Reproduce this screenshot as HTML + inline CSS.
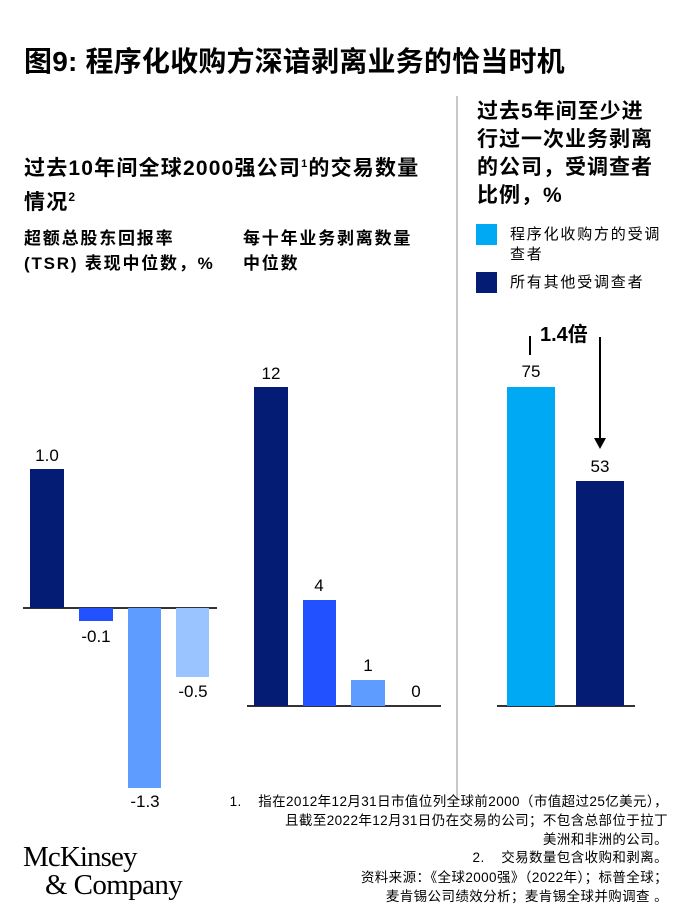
<!DOCTYPE html>
<html><head><meta charset="utf-8"><style>
*{margin:0;padding:0;box-sizing:border-box}
body{width:700px;height:916px;background:#fff;position:relative;overflow:hidden;font-family:"Liberation Sans","Noto Sans CJK SC",sans-serif;color:#000}
.a{position:absolute;white-space:nowrap}
.b{position:absolute}
.v{position:absolute;font-size:17px;text-align:center;width:60px}
.fn{position:absolute;right:32px;font-size:13.5px;letter-spacing:0.4px;text-align:right;white-space:nowrap;line-height:19px}
</style></head><body>
<div class="a" style="left:24px;top:40px;font-size:28px;font-weight:bold;letter-spacing:0.2px">图9: 程序化收购方深谙剥离业务的恰当时机</div>
<div class="b" style="left:456px;top:96px;width:2px;height:705px;background:#c8c8c8"></div>

<div class="a" style="left:24px;top:150px;font-size:21px;font-weight:bold;letter-spacing:1.2px;line-height:28px">过去10年间全球2000强公司<sup style="font-size:11px">1</sup>的交易数量<br>情况<sup style="font-size:12px">2</sup></div>
<div class="a" style="left:24px;top:226px;font-size:17px;font-weight:bold;letter-spacing:1.8px;line-height:25px">超额总股东回报率<br>(TSR) 表现中位数，%</div>
<div class="a" style="left:243px;top:226px;font-size:17px;font-weight:bold;letter-spacing:1.8px;line-height:25px">每十年业务剥离数量<br>中位数</div>

<div class="b" style="left:23px;top:607px;width:194px;height:1.5px;background:#333"></div>
<div class="b" style="left:30px;top:469px;width:34px;height:139px;background:#051c75"></div>
<div class="b" style="left:79px;top:608px;width:34px;height:13px;background:#2251ff"></div>
<div class="b" style="left:128px;top:608px;width:33px;height:180px;background:#5e9cff"></div>
<div class="b" style="left:176px;top:608px;width:33px;height:69px;background:#99c4ff"></div>
<div class="v" style="left:17px;top:446px">1.0</div>
<div class="v" style="left:66px;top:627px">-0.1</div>
<div class="v" style="left:115px;top:792px">-1.3</div>
<div class="v" style="left:163px;top:682px">-0.5</div>

<div class="b" style="left:247px;top:705px;width:194px;height:1.5px;background:#333"></div>
<div class="b" style="left:254px;top:387px;width:34px;height:319px;background:#051c75"></div>
<div class="b" style="left:303px;top:600px;width:33px;height:106px;background:#2251ff"></div>
<div class="b" style="left:351px;top:680px;width:34px;height:26px;background:#5e9cff"></div>
<div class="v" style="left:241px;top:364px">12</div>
<div class="v" style="left:289px;top:576px">4</div>
<div class="v" style="left:338px;top:656px">1</div>
<div class="v" style="left:386px;top:682px">0</div>

<div class="a" style="left:477px;top:98px;font-size:21px;font-weight:bold;letter-spacing:1px;line-height:28px">过去5年间至少进<br>行过一次业务剥离<br>的公司，受调查者<br>比例，%</div>
<div class="b" style="left:476px;top:224px;width:21px;height:21px;background:#00a9f4"></div>
<div class="a" style="left:510px;top:225px;font-size:15px;letter-spacing:1.8px;line-height:20px">程序化收购方的受调<br>查者</div>
<div class="b" style="left:476px;top:272px;width:21px;height:21px;background:#051c75"></div>
<div class="a" style="left:510px;top:273px;font-size:15px;letter-spacing:1.8px;line-height:20px">所有其他受调查者</div>

<div class="b" style="left:497px;top:705px;width:138px;height:1.5px;background:#333"></div>
<div class="b" style="left:507px;top:387px;width:48px;height:319px;background:#00a9f4"></div>
<div class="b" style="left:576px;top:481px;width:48px;height:225px;background:#051c75"></div>
<div class="v" style="left:501px;top:362px">75</div>
<div class="v" style="left:570px;top:457px">53</div>
<div class="a" style="left:540px;top:318px;font-size:20px;font-weight:bold">1.4倍</div>
<div class="b" style="left:529px;top:336px;width:2px;height:19px;background:#000"></div>
<div class="b" style="left:599px;top:337px;width:2px;height:104px;background:#000"></div>
<svg class="b" style="left:594px;top:438px" width="12" height="11"><polygon points="0,0 12,0 6,11" fill="#000"/></svg>

<div class="fn" style="top:792px">1.&nbsp;&nbsp;&nbsp; 指在2012年12月31日市值位列全球前2000（市值超过25亿美元），</div>
<div class="fn" style="top:811px">且截至2022年12月31日仍在交易的公司；不包含总部位于拉丁</div>
<div class="fn" style="top:830px">美洲和非洲的公司。</div>
<div class="fn" style="top:848px">2.&nbsp;&nbsp;&nbsp; 交易数量包含收购和剥离。</div>
<div class="fn" style="top:868px">资料来源：《全球2000强》（2022年）；标普全球；</div>
<div class="fn" style="top:887px">麦肯锡公司绩效分析；麦肯锡全球并购调查 。</div>

<div class="a" style="left:23px;top:843px;font-family:'Liberation Serif',serif;font-size:29px;line-height:28px;letter-spacing:-0.9px">McKinsey</div>
<div class="a" style="left:45px;top:871px;font-family:'Liberation Serif',serif;font-size:29px;line-height:28px;letter-spacing:-0.6px">&amp; Company</div>
</body></html>
